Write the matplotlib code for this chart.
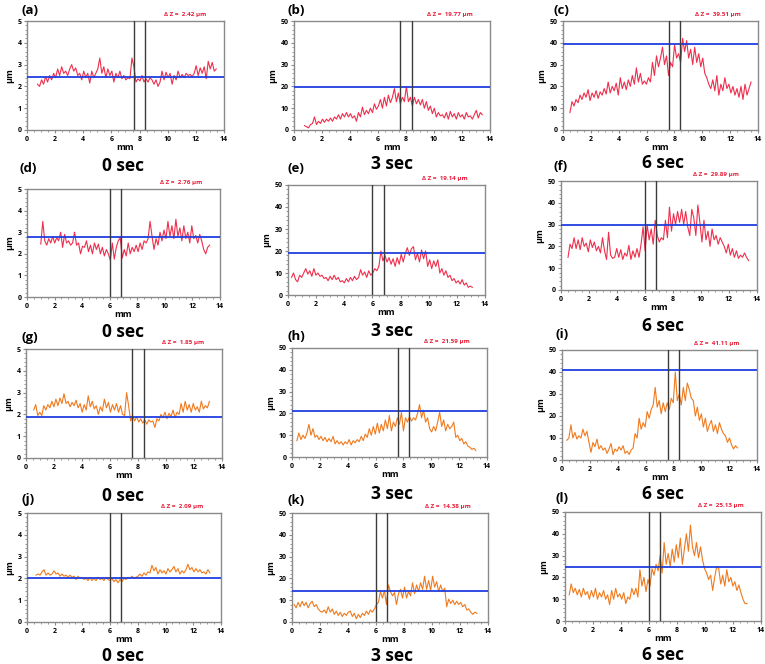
import numpy as np
import matplotlib
matplotlib.use("Agg")
import matplotlib.pyplot as plt
from matplotlib.ticker import MultipleLocator

plt.rcParams['font.family'] = ['Open Sans', 'DejaVu Sans']

# ---------------- data ----------------
panel_ids = ['a', 'b', 'c', 'd', 'e', 'f', 'g', 'h', 'i', 'j', 'k', 'l']
captions = ['0 sec', '3 sec', '6 sec']
delta_z = [2.42, 19.77, 39.51, 2.76, 19.14, 29.89, 1.85, 21.59, 41.11, 2.09, 14.38, 25.13]
hline_level = [2.45, 19.5, 39.6, 2.76, 19.1, 29.9, 1.9, 21.0, 41.0, 2.02, 14.4, 25.0]
vline_pos = [(7.6, 8.4), (7.6, 8.4), (7.6, 8.4), (6.0, 6.8), (6.0, 6.8), (6.0, 6.8),
             (7.6, 8.4), (7.6, 8.4), (7.6, 8.4), (6.0, 6.8), (6.0, 6.8), (6.0, 6.8)]
y_max = [5, 50, 50, 5, 50, 50, 5, 50, 50, 5, 50, 50]
x_range = [(0.75, 13.45), (0.75, 13.45), (0.5, 13.5), (1.0, 13.25), (0.25, 13.1), (0.5, 13.4),
           (0.55, 13.1), (0.35, 13.2), (0.35, 12.6), (0.65, 13.2), (0.15, 13.2), (0.3, 13.0)]

y_a = [2.1, 2.0, 2.3, 2.1, 2.45, 2.2, 2.5, 2.3, 2.6, 2.4, 2.8, 2.5, 2.9, 2.6, 2.7, 2.5, 2.8, 3.0, 2.7, 2.85,
       2.5, 2.6, 2.3, 2.7, 2.4, 2.6, 2.15, 2.7, 2.4, 2.6, 2.8, 3.3, 2.6, 2.9, 2.4, 2.8, 2.5, 2.7, 2.2, 2.6,
       2.4, 2.7, 2.35, 2.5, 2.3, 2.4, 2.35, 3.3, 2.9, 2.2, 2.35, 2.25, 2.5, 2.2, 2.35, 2.2, 2.4, 2.3, 2.1, 2.3,
       2.0, 2.2, 2.7, 2.3, 2.65, 2.4, 2.6, 2.1, 2.5, 2.3, 2.7, 2.4, 2.55, 2.4, 2.6, 2.5, 2.55, 2.45, 2.6, 2.95,
       2.5, 2.85, 2.6, 2.9, 2.35, 3.15, 2.8, 3.1, 2.7, 2.8]
y_b = [2, 1.5, 1, 2.5, 3, 6, 2.5, 4, 3, 5, 3.5, 5, 4, 5.5, 4, 6, 5, 7, 5, 7.5,
       6, 8, 6, 7.5, 5.5, 6.5, 4, 8, 6, 10.5, 7, 9, 7.5, 10, 8, 12, 9.5, 11, 14, 10,
       15, 11, 16, 12.5, 15, 19, 13, 17, 12, 15, 13, 20, 13, 15, 11, 15, 12, 14, 11.5, 14,
       10, 13, 9, 11, 7.5, 10, 6, 8, 6.5, 7, 5.5, 8, 5, 8.5, 6, 7.5, 5, 8, 6, 7,
       5, 8, 6, 6.5, 5, 7, 9, 5.5, 8, 7]
y_c = [8, 13, 11, 14, 12.5, 16, 14, 17, 15, 18.5, 13.5, 17, 15, 18, 14.5, 17.5, 16, 19, 16.5, 22,
       17, 20, 18, 21.5, 16, 24, 19, 22, 18.5, 23, 20, 25, 21, 28.5, 22, 26, 21, 22.5, 21, 24,
       22, 31, 25, 34, 29, 33, 38, 30, 34, 25, 31, 29, 39, 33, 35, 31, 42, 36, 41, 33,
       37, 30, 38, 31, 35, 29, 33, 26, 24, 21, 19, 23, 18, 25, 16, 21, 18, 24, 19, 21,
       17, 20, 16, 19, 15, 20, 14, 21, 16, 19, 22]
y_d = [2.45, 3.5, 2.6, 2.4, 2.7, 2.5, 2.8, 2.5, 2.75, 2.6, 3.0, 2.3, 2.9, 2.5, 2.6, 2.4, 2.5, 3.0, 2.4, 2.5,
       2.0, 2.35, 2.3, 2.6, 2.1, 2.4, 2.0, 2.5, 2.2, 2.45, 2.0, 2.3, 1.9, 2.2, 2.0, 1.7, 2.5, 1.75, 2.3, 2.6,
       2.75, 1.8, 2.2, 1.9, 2.5, 2.0, 2.3, 2.1, 2.4, 2.1, 2.5, 2.2, 2.6, 2.5, 2.7, 3.5, 2.8, 2.2, 2.7, 2.4,
       3.0, 2.6, 3.1, 2.7, 3.5, 2.8, 3.3, 2.7, 3.6, 2.8, 3.2, 2.6, 3.3, 2.7, 3.0, 2.5, 3.3, 2.7, 2.85, 2.5,
       2.9, 2.6, 2.2, 2.0, 2.3, 2.4]
y_e = [8, 10, 7, 6, 9, 8, 10, 12, 9.5, 11, 8.5, 12, 9, 10, 8.5, 9, 7.5, 8, 6.5, 8.5,
       7, 9, 7, 8, 6, 6.5, 5.5, 7.5, 6, 8, 6.5, 8.5, 7, 8, 11.5, 9, 10.5, 8, 11, 9,
       10, 12, 11, 13, 20, 15.5, 18, 15, 17, 14, 16.5, 13, 17, 14, 18.5, 15, 19, 21.5, 18, 21,
       22, 16, 19, 15, 20.5, 16.5, 20, 13, 16, 12, 15.5, 13, 16, 10, 12, 9, 11, 8, 9, 6.5,
       7.5, 5.5, 6.5, 5, 7, 4.5, 5.5, 3.5, 4, 3.5]
y_f = [15, 21, 19, 24, 19, 23, 18.5, 24, 20, 21.5, 17.5, 23, 19.5, 22, 18, 20, 17, 24, 18, 14,
       26.5, 16, 14.5, 15, 19, 15, 18.5, 14, 17, 15.5, 20.5, 14, 18, 15, 19, 15, 21, 29, 18, 30,
       23, 28, 21, 32, 25, 22, 24, 23, 32, 24, 38, 27, 35, 30, 36, 31, 37, 30, 36, 29,
       25, 37, 33, 25, 39, 31, 22, 32, 23, 27, 20, 28, 23, 25, 21, 24, 22, 20, 17, 21,
       16, 19, 15, 18, 14.5, 16, 15, 17, 15, 13.5]
y_g = [2.2, 2.45, 1.95, 2.1, 1.95, 2.4, 2.2, 2.45, 2.3, 2.6, 2.35, 2.7, 2.4, 2.75, 2.5, 2.95, 2.5, 2.6, 2.35, 2.55,
       2.4, 2.65, 2.3, 2.5, 2.1, 2.45, 2.2, 2.85, 2.35, 2.6, 2.25, 2.4, 2.0, 2.35, 2.15, 2.7, 2.3, 2.55, 2.1, 2.45,
       2.2, 2.5, 2.1, 2.4, 2.0, 1.95, 3.0, 2.4, 1.7, 1.95, 1.7, 1.9, 1.65, 1.8, 1.6, 1.75, 1.55, 1.75, 1.65, 1.7,
       1.4, 1.8, 1.7, 2.0, 1.85, 2.1, 1.8, 2.05, 1.9, 2.2, 1.85, 2.1, 2.0, 2.5, 2.1, 2.6, 2.2, 2.45, 2.1, 2.5,
       2.2, 2.35, 2.1, 2.6, 2.25, 2.4, 2.3, 2.6]
y_h = [7.5, 11, 8, 10, 8.5, 11, 15, 10, 13, 9, 10, 8, 9.5, 7.5, 9, 7, 8.5, 7, 9.5, 6,
       7.5, 6, 7, 5.5, 7, 6, 8, 5.5, 7.5, 6.5, 8, 7, 9.5, 7.5, 10.5, 9, 13, 10, 14, 10.5,
       15.5, 11, 15, 12, 17, 13, 19, 12, 16, 14, 18, 15, 20.5, 12, 18, 16, 18.5, 16.5, 18, 17,
       20, 24, 18, 21.5, 16, 18, 13, 11.5, 14, 12, 16, 20.5, 14, 17, 12, 15, 13, 14, 16, 9,
       10, 7.5, 8.5, 6, 7, 5, 4.5, 3.5, 4, 3]
y_i = [9, 10, 16, 10, 12.5, 9.5, 11, 10, 14, 11, 13, 8, 3.5, 8, 6, 9.5, 5, 6.5, 4.5, 5.5,
       3, 5, 7.5, 2.5, 5, 4, 6, 4.5, 6.5, 3, 4, 2.5, 4.5, 5.5, 12, 10, 19, 14, 17, 15,
       22, 19, 23, 25, 33, 24, 27, 21, 26, 22, 26, 23, 28, 26, 40, 27, 30, 25, 33, 27,
       35, 32, 28, 27, 20, 24, 18, 21, 15, 19, 13, 16, 18, 13, 16, 12, 17, 14, 12, 11,
       8, 10, 7, 5, 6.5, 5.5]
y_j = [2.15, 2.2, 2.15, 2.3, 2.4, 2.15, 2.25, 2.15, 2.2, 2.35, 2.2, 2.25, 2.1, 2.2, 2.1, 2.15, 2.05, 2.15, 2.05, 2.1,
       1.95, 2.1, 2.0, 2.05, 1.95, 2.0, 1.9, 2.05, 1.9, 2.0, 1.9, 2.05, 1.95, 2.0, 1.9, 2.05, 1.95, 1.9, 2.0, 1.85,
       1.95, 1.8, 1.95, 1.85, 2.0, 1.95, 2.05, 2.0, 2.1, 2.0, 2.05, 2.1, 2.2, 2.1, 2.25, 2.15, 2.3, 2.25, 2.6, 2.35,
       2.5, 2.2, 2.4, 2.25, 2.35, 2.2, 2.45, 2.3, 2.4, 2.55, 2.3, 2.45, 2.2, 2.35, 2.25, 2.4, 2.65, 2.4, 2.5, 2.3,
       2.45, 2.3, 2.4, 2.25, 2.3, 2.2, 2.4, 2.25]
y_k = [8, 6.5, 9, 7, 9.5, 7.5, 9, 6.5, 8.5, 9.5, 7, 8, 6, 5, 4.5, 5.5, 4, 7, 4.5, 6,
       3.5, 5, 3, 4.5, 2.5, 4, 3, 4.5, 5, 2.5, 4, 1.5, 3.5, 2, 4, 3, 5, 3.5, 5.5, 4.5,
       6, 8, 9, 14, 11, 14.5, 8, 17, 14, 12, 13.5, 8, 13, 15, 11, 16, 11, 14, 12, 18,
       13, 17, 14, 18, 15, 21, 15, 19, 14.5, 21, 16, 18.5, 14, 17, 14, 15.5, 7, 10.5, 8.5, 10,
       8, 9.5, 8, 9, 7, 8, 5.5, 6, 4.5, 3.5, 4.5, 4]
y_l = [12, 17, 13, 15, 12, 14.5, 11, 15, 12, 13.5, 10, 14, 11, 15, 10, 13, 11, 14, 10, 12,
       7.5, 14, 10, 15, 11, 12.5, 10, 13, 8, 11, 10, 15, 12, 15, 11, 23.5, 16, 20, 13.5, 19,
       16, 24, 21, 26, 23, 30, 22, 36, 26, 31, 25, 33, 27, 35, 29, 38, 26, 33, 40, 32,
       44, 34, 30, 36, 29, 34, 28, 24, 22, 19, 21, 14, 20, 25, 24, 17, 21, 16, 23.5, 18,
       20, 16, 18, 14, 16.5, 13, 10, 8, 8]

series_y = [y_a, y_b, y_c, y_d, y_e, y_f, y_g, y_h, y_i, y_j, y_k, y_l]

# ---------------- layout (pixels: left, top, width, height) ----------------
W, H = 765, 664
boxes = [(27, 21, 197, 109), (294, 21, 196, 109), (563, 21, 195, 109),
         (27, 189, 193, 108), (288, 185, 197, 110), (561, 181, 196, 109),
         (26, 349, 196, 109), (292, 348, 195, 109), (562, 350, 195, 110),
         (27, 513, 194, 109), (292, 513, 196, 109), (565, 512, 196, 109)]
label_xy = [(22, 11), (288, 11), (553, 11),
            (20, 168), (287, 168), (553, 166),
            (22, 337), (288, 336), (556, 335),
            (22, 500), (288, 500), (556, 498)]
caption_xy = [(123, 166), (392, 164), (663, 163),
              (123, 332), (392, 331), (663, 326),
              (123, 496), (392, 494), (663, 494),
              (123, 656), (392, 656), (663, 655)]

red = '#ef2f4d'
orange = '#f07a1e'
blue = '#1f3fe0'
spine_col = '#8a8a8a'

fig = plt.figure(figsize=(W / 100, H / 100), dpi=100)

for k, pid in enumerate(panel_ids):
    l, t, w, h = boxes[k]
    ax = fig.add_axes([l / W, 1 - (t + h) / H, w / W, h / H])
    x0, x1 = x_range[k]
    y = np.array(series_y[k])
    x = np.linspace(x0, x1, len(y))
    col = red if k < 6 else orange
    ax.plot(x, y, color=col, lw=0.8, zorder=3)
    ax.axhline(hline_level[k], color=blue, lw=1.3, zorder=4)
    for v in vline_pos[k]:
        ax.axvline(v, color='#3c3c3c', lw=1.0, zorder=5)
    ax.set_xlim(0, 14)
    ax.set_ylim(0, y_max[k])
    ax.xaxis.set_major_locator(MultipleLocator(2))
    ax.xaxis.set_minor_locator(MultipleLocator(0.5))
    if y_max[k] == 5:
        ax.yaxis.set_major_locator(MultipleLocator(1))
        ax.yaxis.set_minor_locator(MultipleLocator(0.2))
    else:
        ax.yaxis.set_major_locator(MultipleLocator(10))
        ax.yaxis.set_minor_locator(MultipleLocator(2))
    for s in ax.spines.values():
        s.set_color(spine_col)
        s.set_linewidth(1.0)
    ax.tick_params(which='major', direction='out', length=2.5, width=0.8, color=spine_col,
                   labelsize=5, pad=1.5)
    ax.tick_params(which='minor', direction='out', length=1.3, width=0.6, color=spine_col)
    for lab in ax.get_xticklabels() + ax.get_yticklabels():
        lab.set_fontweight('bold')
    ax.set_xlabel('mm', fontsize=6.5, fontweight='bold', labelpad=0.5)
    ax.set_ylabel('µm', fontsize=6.5, fontweight='bold', labelpad=2)
    ax.text(0.91, 1.035, 'Δ Z =  %.2f µm' % delta_z[k], transform=ax.transAxes,
            ha='right', va='bottom', fontsize=4.5, fontweight='bold', color='#e8203a')
    lx, ly = label_xy[k]
    fig.text(lx / W, 1 - ly / H, '(%s)' % pid, fontsize=9.5, fontweight='bold',
             ha='left', va='center')
    cx, cy = caption_xy[k]
    fig.text(cx / W, 1 - cy / H, captions[k % 3], fontsize=12.5, fontweight='bold',
             ha='center', va='center')

fig.savefig('out.png', dpi=100)
